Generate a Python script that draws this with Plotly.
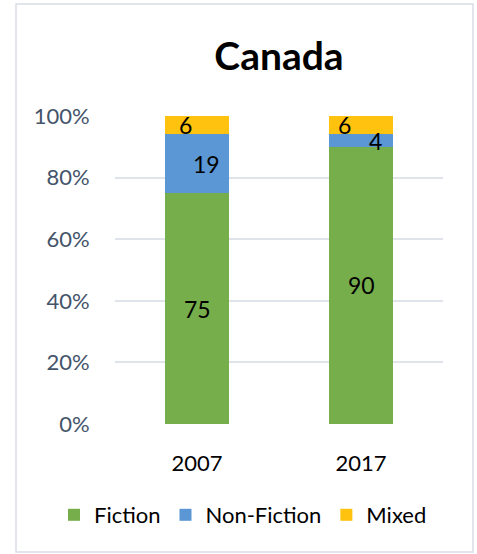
import plotly.graph_objects as go

years = ["2007", "2017"]
fiction = [75, 90]
non_fiction = [19, 4]
mixed = [6, 6]
series_names = ["Fiction", "Non-Fiction", "Mixed"]
colors = ["#75AE4B", "#5A97D4", "#FFC20E"]
label_shift = {"Fiction": [0, 0], "Non-Fiction": [9, 14], "Mixed": [-12, -17]}

FONT = "Lato, Calibri, Carlito, sans-serif"

fig = go.Figure()
values = [fiction, non_fiction, mixed]
for name, vals, col in zip(series_names, values, colors):
    fig.add_trace(go.Bar(
        x=years, y=vals, name=name,
        marker=dict(color=col, line=dict(width=0)),
    ))

# data labels centered in each segment (x given as category index)
base = [0] * len(years)
for name, vals in zip(series_names, values):
    for i, v in enumerate(vals):
        fig.add_annotation(
            x=i, y=base[i] + v / 2, text=str(v), showarrow=False,
            xref="x", yref="y",
            xshift=label_shift[name][i],
            font=dict(family=FONT, size=23, color="#000000"),
        )
        base[i] += v

# outer chart border
W, H = 477, 554
L, R, T, B = 115, 34, 116, 130
pw, ph = W - L - R, H - T - B
def px_x(p):
    return (p - L) / pw
def px_y(p):
    return (H - B - p) / ph
fig.add_shape(type="rect", xref="paper", yref="paper",
              x0=px_x(16), x1=px_x(473), y0=px_y(552), y1=px_y(4),
              line=dict(color="#D9DEE6", width=1.5), layer="below")

fig.update_layout(
    width=W, height=H,
    margin=dict(l=L, r=R, t=T, b=B),
    barmode="stack", bargap=0.61,
    plot_bgcolor="white", paper_bgcolor="white",
    font=dict(family=FONT),
    title=dict(text="<b>Canada</b>", x=px_x(279), xref="paper", xanchor="center",
               y=1 - 56 / H, yanchor="middle",
               font=dict(family=FONT, size=39, color="#000000")),
    xaxis=dict(type="category", range=[-0.5, 1.5], showgrid=False, showline=False,
               zeroline=False,
               ticks="outside", ticklen=20, tickcolor="rgba(0,0,0,0)",
               tickfont=dict(family=FONT, size=22, color="#000000")),
    yaxis=dict(range=[0, 100], tickvals=[0, 20, 40, 60, 80, 100],
               ticktext=["0%", "20%", "40%", "60%", "80%", "100%"],
               showgrid=True, gridcolor="#DFE3EA", gridwidth=1.5,
               zeroline=False, showline=False,
               ticks="outside", ticklen=20, tickcolor="rgba(0,0,0,0)",
               tickfont=dict(family=FONT, size=22, color="#44546A")),
    legend=dict(orientation="h", x=px_x(54), xanchor="left",
                y=px_y(515), yanchor="middle",
                font=dict(family=FONT, size=22, color="#000000"),
                traceorder="normal", itemwidth=30),
    showlegend=True,
)

fig.write_html("out.html", config={"displayModeBar": False},
               post_script="document.body.style.margin='0px';")
